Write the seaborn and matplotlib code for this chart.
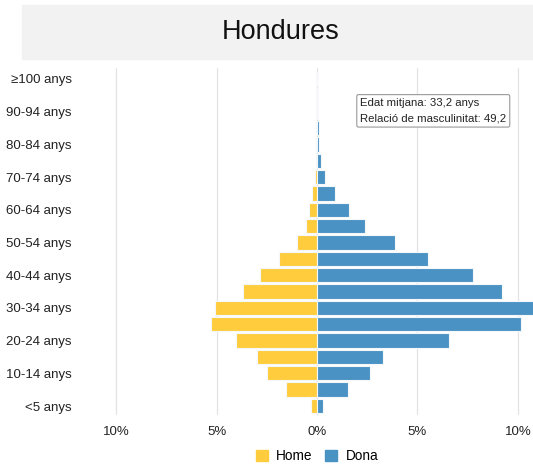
import matplotlib.pyplot as plt
import matplotlib.patches as mpatches
import pandas as pd
import seaborn as sns

# Age groups, top to bottom
ages = ['≥100 anys', '95-99 anys', '90-94 anys', '85-89 anys', '80-84 anys',
        '75-79 anys', '70-74 anys', '65-69 anys', '60-64 anys', '55-59 anys',
        '50-54 anys', '45-49 anys', '40-44 anys', '35-39 anys', '30-34 anys',
        '25-29 anys', '20-24 anys', '15-19 anys', '10-14 anys', '5-9 anys',
        '<5 anys']

# Share of population (%), same order as ages
home = [0.0, 0.0, 0.01, 0.02, 0.05, 0.07, 0.12, 0.27, 0.4, 0.55,
        1.0, 1.9, 2.85, 3.7, 5.1, 5.3, 4.05, 3.0, 2.5, 1.55, 0.28]
dona = [0.0, 0.0, 0.02, 0.08, 0.1, 0.22, 0.42, 0.88, 1.58, 2.4,
        3.9, 5.5, 7.75, 9.2, 10.8, 10.15, 6.55, 3.3, 2.63, 1.55, 0.32]

x_ticks = [-10, -5, 0, 5, 10]
x_labels = ['10%', '5%', '0%', '5%', '10%']

colors = {'Home': '#FFCC3D', 'Dona': '#4A92C3'}

df = pd.DataFrame({
    'edat': ages * 2,
    'valor': [-v for v in home] + dona,
    'sexe': ['Home'] * len(ages) + ['Dona'] * len(ages),
})

plt.rcParams['font.family'] = ['Liberation Sans', 'DejaVu Sans']

fig = plt.figure(figsize=(5.33, 4.67), dpi=100)
ax = fig.add_axes([101 / 533, 1 - 415 / 467, 1 - 101 / 533, (415 - 68) / 467])

sns.barplot(data=df, x='valor', y='edat', hue='sexe', order=ages,
            palette=colors, saturation=1, dodge=False, width=0.88, orient='h',
            edgecolor='#f4f8fb', linewidth=0.8, legend=False, ax=ax)

ax.set_xlim(-10.75, 10.75)
ax.set_ylim(20.55, -0.67)
ax.set_xticks(x_ticks)
ax.set_xticklabels(x_labels, fontsize=9.5, color='#222222')
ax.set_yticks(range(0, len(ages), 2))
ax.set_yticklabels(ages[::2], fontsize=9.5, color='#222222')
ax.tick_params(axis='x', length=0, pad=8)
ax.tick_params(axis='y', length=0, pad=21)
ax.set_xlabel('')
ax.set_ylabel('')
for s in ax.spines.values():
    s.set_visible(False)
ax.set_axisbelow(True)
ax.xaxis.grid(True, color='#e3e3e3', linewidth=0.9)

# Title band
fig.patches.append(mpatches.Rectangle((22 / 533, 1 - 59 / 467), 1 - 22 / 533, 54 / 467,
                                      transform=fig.transFigure, color='#f2f2f2',
                                      zorder=0))
fig.text(281 / 533, 1 - 32 / 467, 'Hondures', ha='center', va='center',
         fontsize=19.5, color='#111111')

# Info box
ax.text(2.15, 1.95, 'Edat mitjana: 33,2 anys\nRelació de masculinitat: 49,2',
        fontsize=8.2, color='#222222', va='center', ha='left', linespacing=1.7,
        bbox=dict(boxstyle='round,pad=0.3,rounding_size=0.15', fc='white',
                  ec='#999999', lw=0.8))

# Legend
handles = [mpatches.Patch(color=colors['Home'], label='Home'),
           mpatches.Patch(color=colors['Dona'], label='Dona')]
fig.legend(handles=handles, loc='center', bbox_to_anchor=(317 / 533, 1 - 456 / 467),
           ncol=2, frameon=False, fontsize=9.8, handlelength=0.9, handleheight=0.9,
           handletextpad=0.6, columnspacing=0.9)

fig.savefig('out.png', dpi=100)
